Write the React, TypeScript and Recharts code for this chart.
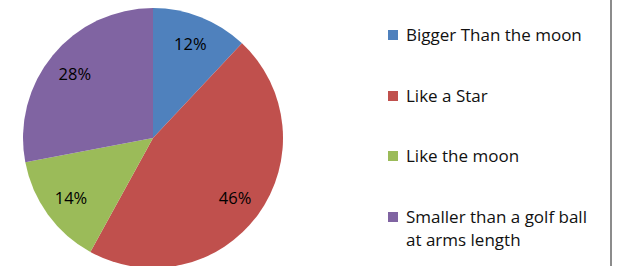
import { PieChart, Pie, Cell } from "recharts";

const categories = [
  "Bigger Than the moon",
  "Like a Star",
  "Like the moon",
  "Smaller than a golf ball at arms length",
];
const shares = [12, 46, 14, 28];
const colors = ["#4F81BD", "#C0504D", "#9BBB59", "#8064A2"];

const data = categories.map((name, i) => ({ name, value: shares[i] }));

const FONT = "'Open Sans', sans-serif";
const RADIAN = Math.PI / 180;

const renderLabel = (props: any) => {
  const { cx, cy, midAngle, outerRadius, value } = props;
  const r = outerRadius * 0.78;
  const x = cx + r * Math.cos(-midAngle * RADIAN);
  const y = cy + r * Math.sin(-midAngle * RADIAN);
  return (
    <text
      x={x}
      y={y}
      fill="#000"
      textAnchor="middle"
      dominantBaseline="central"
      fontSize={16.5}
      fontFamily={FONT}
    >
      {`${value}%`}
    </text>
  );
};

export default function App() {
  return (
    <div
      style={{
        position: "absolute",
        left: 0,
        top: 0,
        width: 622,
        height: 266,
        background: "#fff",
        overflow: "hidden",
        fontFamily: FONT,
      }}
    >
      <PieChart
        width={330}
        height={300}
        margin={{ top: 0, right: 0, bottom: 0, left: 0 }}
        style={{ position: "absolute", left: 0, top: 0 }}
      >
        <Pie
          data={data}
          dataKey="value"
          nameKey="name"
          cx={153}
          cy={138}
          outerRadius={130}
          startAngle={90}
          endAngle={-270}
          stroke="none"
          label={renderLabel}
          labelLine={false}
          isAnimationActive={false}
        >
          {data.map((d, i) => (
            <Cell key={d.name} fill={colors[i]} />
          ))}
        </Pie>
      </PieChart>

      {/* legend */}
      {data.map((d, i) => (
        <div
          key={d.name}
          style={{
            position: "absolute",
            left: 388,
            top: 23 + i * 60.7,
            display: "flex",
            alignItems: "flex-start",
            width: 214,
          }}
        >
          <span
            style={{
              width: 10,
              height: 10,
              marginTop: 7,
              marginRight: 8,
              flexShrink: 0,
              background: colors[i],
            }}
          />
          <span style={{ fontSize: 17, lineHeight: "23px", color: "#111" }}>
            {d.name}
          </span>
        </div>
      ))}

      {/* right border */}
      <div
        style={{
          position: "absolute",
          left: 610,
          top: 0,
          width: 1.5,
          height: 266,
          background: "#8c8c8c",
        }}
      />
    </div>
  );
}
